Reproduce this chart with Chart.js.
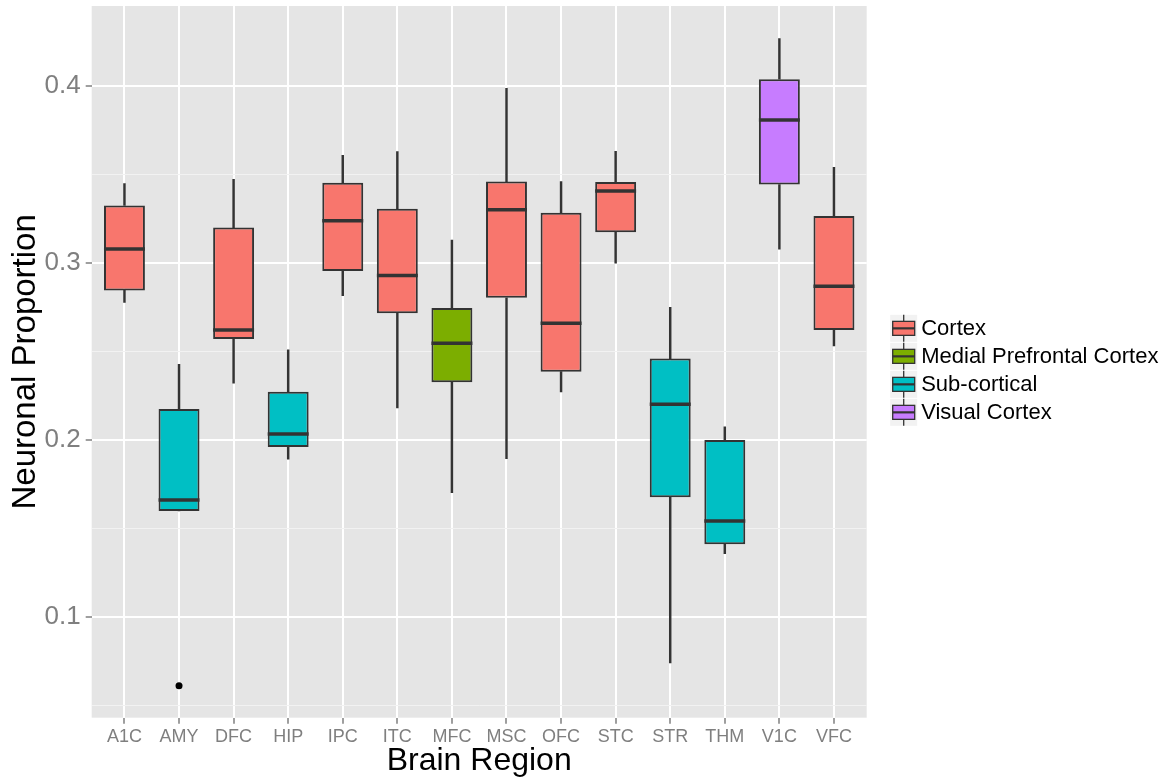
<!DOCTYPE html>
<html>
<head>
<meta charset="utf-8">
<script src="https://cdn.jsdelivr.net/npm/chart.js@4.4.1/dist/chart.umd.min.js"></script>
<style>
  html, body { margin: 0; padding: 0; background: #ffffff; }
  canvas { display: block; }
</style>
</head>
<body>
<canvas id="chart" width="1170" height="781"></canvas>
<script>
// Brain regions and the anatomical group each one belongs to
const regions = ['A1C','AMY','DFC','HIP','IPC','ITC','MFC','MSC','OFC','STC','STR','THM','V1C','VFC'];
const regionGroup = ['Cortex','Sub-cortical','Cortex','Sub-cortical','Cortex','Cortex',
  'Medial Prefrontal Cortex','Cortex','Cortex','Cortex','Sub-cortical','Sub-cortical','Visual Cortex','Cortex'];
const groups = ['Cortex','Medial Prefrontal Cortex','Sub-cortical','Visual Cortex'];
const groupColors = ['#F8766D','#7CAE00','#00BFC4','#C77CFF'];

// Five-number summaries of neuronal proportion per region
const whiskerLow  = [0.2775,0.1597,0.2319,0.1889,0.2814,0.2179,0.1701,0.1893,0.2270,0.2997,0.0738,0.1356,0.3076,0.2529];
const q1          = [0.2843,0.1597,0.2569,0.1959,0.2953,0.2714,0.2324,0.2801,0.2384,0.3172,0.1675,0.1409,0.3441,0.2620];
const median      = [0.3077,0.1659,0.2620,0.2032,0.3236,0.2927,0.2545,0.3299,0.2658,0.3405,0.2200,0.1541,0.3806,0.2867];
const q3          = [0.3323,0.2173,0.3198,0.2271,0.3452,0.3305,0.2744,0.3458,0.3282,0.3456,0.2458,0.1998,0.4036,0.3264];
const whiskerHigh = [0.3447,0.2426,0.3471,0.2507,0.3607,0.3627,0.3127,0.3985,0.3458,0.3629,0.2748,0.2073,0.4266,0.3539];

// Points beyond the whiskers
const outlierRegion = ['AMY'];
const outlierValue  = [0.0610];

// Y axis
const yMajorTicks = [0.1, 0.2, 0.3, 0.4];
const yMinorTicks = [0.05, 0.15, 0.25, 0.35];
const yMin = 0.0429, yMax = 0.445;

const FONT = '"Liberation Sans", Arial, Helvetica, sans-serif';
const INK = '#333333';
const regionColors = regionGroup.map(g => groupColors[groups.indexOf(g)]);

function boxHalfWidth(chart) {
  const s = chart.scales.x;
  return 0.75 * (s.getPixelForValue(1) - s.getPixelForValue(0)) / 2;
}

// Grey panel behind the grid
const panelBackground = {
  id: 'panelBackground',
  beforeDraw(chart) {
    const {ctx, chartArea: a} = chart;
    ctx.save();
    ctx.fillStyle = '#E5E5E5';
    ctx.fillRect(a.left, a.top, a.right - a.left, a.bottom - a.top);
    ctx.restore();
  }
};

// Legend with small box-plot keys
const boxLegend = {
  id: 'boxLegend',
  afterDraw(chart) {
    const {ctx, chartArea: a} = chart;
    const key = 27, step = 28;
    const x0 = a.right + 23.5;
    const total = groups.length * step;
    const y0 = (a.top + a.bottom) / 2 - total / 2 + 9;
    ctx.save();
    groups.forEach((g, i) => {
      const top = y0 + i * step;
      const cx = x0 + key / 2;
      ctx.fillStyle = '#F2F2F2';
      ctx.fillRect(x0, top, key, key);
      ctx.strokeStyle = INK;
      ctx.lineWidth = 1.3;
      ctx.beginPath();
      ctx.moveTo(cx, top); ctx.lineTo(cx, top + key);
      ctx.stroke();
      ctx.fillStyle = groupColors[i];
      ctx.fillRect(x0 + 2.5, top + 6.5, key - 5, 14);
      ctx.strokeRect(x0 + 2.5, top + 6.5, key - 5, 14);
      ctx.lineWidth = 2.2;
      ctx.beginPath();
      ctx.moveTo(x0 + 2.5, top + 13.5); ctx.lineTo(x0 + key - 2.5, top + 13.5);
      ctx.stroke();
      ctx.fillStyle = '#000000';
      ctx.font = '22px ' + FONT;
      ctx.textBaseline = 'middle';
      ctx.textAlign = 'left';
      ctx.fillText(g, x0 + key + 4, top + key / 2 + 1);
    });
    ctx.restore();
  }
};

const idx = regions.map((r, i) => i);

new Chart(document.getElementById('chart'), {
  type: 'bar',
  data: {
    datasets: [
      {
        label: 'whiskers-upper',
        type: 'bar',
        data: idx.map(i => ({x: i, y: [q3[i], whiskerHigh[i]]})),
        backgroundColor: INK,
        barThickness: 1.8,
        grouped: false,
        order: 4
      },
      {
        label: 'whiskers-lower',
        type: 'bar',
        data: idx.map(i => ({x: i, y: [whiskerLow[i], q1[i]]})),
        backgroundColor: INK,
        barThickness: 1.8,
        grouped: false,
        order: 4
      },
      {
        label: 'boxes',
        type: 'bar',
        data: idx.map(i => ({x: i, y: [q1[i], q3[i]]})),
        backgroundColor: regionColors,
        borderColor: INK,
        borderWidth: 2,
        borderSkipped: false,
        barPercentage: 0.75,
        categoryPercentage: 1,
        grouped: false,
        order: 3
      },
      {
        label: 'medians',
        type: 'scatter',
        data: idx.map(i => ({x: i, y: median[i]})),
        pointStyle: 'line',
        pointRadius: ctx => boxHalfWidth(ctx.chart),
        pointHoverRadius: ctx => boxHalfWidth(ctx.chart),
        borderColor: INK,
        borderWidth: 3.5,
        order: 2
      },
      {
        label: 'outliers',
        type: 'scatter',
        data: outlierRegion.map((r, k) => ({x: regions.indexOf(r), y: outlierValue[k]})),
        pointStyle: 'circle',
        pointRadius: 3.5,
        backgroundColor: '#000000',
        borderColor: '#000000',
        borderWidth: 0,
        order: 1
      }
    ]
  },
  options: {
    responsive: false,
    animation: false,
    events: [],
    layout: { padding: { left: 0, right: 303.3, top: 6, bottom: 0 } },
    plugins: {
      legend: { display: false },
      tooltip: { enabled: false }
    },
    scales: {
      x: {
        type: 'linear',
        offset: false,
        min: -0.6,
        max: regions.length - 0.4,
        afterBuildTicks: s => { s.ticks = idx.map(i => ({value: i})); },
        afterFit: s => { s.height = 63.3; s.paddingLeft = 0; s.paddingRight = 0; },
        border: { display: false },
        grid: {
          offset: false,
          color: '#FFFFFF',
          lineWidth: 2,
          drawTicks: true,
          tickLength: 6,
          tickColor: '#7F7F7F',
          tickWidth: 1.5
        },
        ticks: {
          autoSkip: false,
          maxRotation: 0,
          padding: 3,
          color: '#7F7F7F',
          font: { family: FONT, size: 18 },
          callback: v => regions[v]
        },
        title: {
          display: true,
          text: 'Brain Region',
          color: '#000000',
          font: { family: FONT, size: 32 },
          padding: { top: 0, bottom: 1 }
        }
      },
      y: {
        type: 'linear',
        min: yMin,
        max: yMax,
        afterBuildTicks: s => {
          s.ticks = yMinorTicks.concat(yMajorTicks).sort((a, b) => a - b).map(v => ({value: v}));
        },
        afterFit: s => { s.width = 91.7; s.paddingTop = 0; s.paddingBottom = 0; },
        border: { display: false },
        grid: {
          color: c => yMajorTicks.includes(c.tick.value) ? '#FFFFFF' : '#F2F2F2',
          lineWidth: c => yMajorTicks.includes(c.tick.value) ? 2 : 1,
          drawTicks: true,
          tickLength: 6,
          tickColor: c => yMajorTicks.includes(c.tick.value) ? '#7F7F7F' : 'rgba(0,0,0,0)',
          tickWidth: 1.5
        },
        ticks: {
          autoSkip: false,
          padding: 5,
          color: '#7F7F7F',
          font: { family: FONT, size: 26 },
          callback: v => yMajorTicks.includes(v) ? v.toFixed(1) : ''
        },
        title: {
          display: true,
          text: 'Neuronal Proportion',
          color: '#000000',
          font: { family: FONT, size: 33 },
          padding: { top: 6, bottom: 0 }
        }
      }
    }
  },
  plugins: [panelBackground, boxLegend]
});
</script>
</body>
</html>
